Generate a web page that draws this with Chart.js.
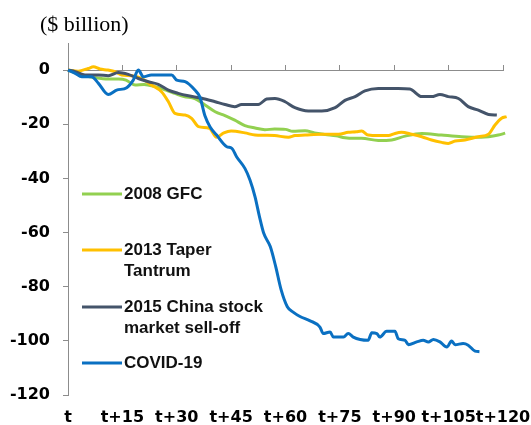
<!DOCTYPE html>
<html>
<head>
<meta charset="utf-8">
<script src="https://cdn.jsdelivr.net/npm/chart.js@4"></script>
<style>
  html, body { margin: 0; padding: 0; background: #ffffff; }
  #wrap { width: 531px; height: 425px; }
</style>
</head>
<body>
<div id="wrap"><canvas id="c" width="531" height="425"></canvas></div>
<script>
// ---- Data ----
const unitLabel = '($ billion)';

const seriesLabels = [
  ['2008 GFC'],
  ['2013 Taper', 'Tantrum'],
  ['2015 China stock', 'market sell-off'],
  ['COVID-19']
];

const xTickValues = [0, 15, 30, 45, 60, 75, 90, 105, 120];
const xTickLabels = ['t', 't+15', 't+30', 't+45', 't+60', 't+75', 't+90', 't+105', 't+120'];
const yTickValues = [0, -20, -40, -60, -80, -100, -120];

const gfcDays = [0, 2, 4.7, 7.4, 11, 14, 16, 18.5, 21, 24, 27, 29.5, 32, 35, 37.8, 40.6, 43.3, 46, 48.8, 51.6, 54.3, 57, 60, 62, 65.4, 68, 71, 74, 76.4, 79, 81, 85.6, 89.3, 93, 97.6, 103, 108.6, 114, 118.7, 120.6];
const gfcValues = [0, -1, -2.1, -2.8, -3.3, -3.3, -3.7, -5.5, -5.3, -6.1, -7.4, -8.6, -9.8, -10.5, -12.9, -15.4, -16.8, -18.5, -20.5, -21.4, -22, -21.8, -21.9, -22.6, -22.4, -23.2, -23.8, -24.3, -25, -25.2, -25.2, -26, -25.8, -24.4, -23.4, -24, -24.6, -24.8, -24, -23.3];

const taperDays = [0, 2.8, 5.6, 7, 8.8, 11, 13, 14.8, 17.6, 20.3, 23, 25.8, 27.7, 29.5, 32.3, 34.1, 36, 39, 41, 43, 45, 48.8, 51.6, 54.3, 57, 60.8, 62.6, 65.4, 70, 74.6, 77.3, 79.5, 81, 82.8, 85.6, 88.4, 90.2, 92, 94.8, 97.6, 100.3, 103.1, 104.9, 106.8, 109.5, 113.2, 116, 117.8, 119.6, 121];
const taperValues = [0, -0.4, 0.6, 1.2, 0.4, 0, -0.6, -1.8, -2.1, -3.1, -5.5, -8, -11.7, -16, -16.6, -17.8, -20.9, -21.5, -24.8, -23.2, -22.5, -23.2, -24, -24.1, -24.2, -24.8, -24.2, -24, -23.7, -23.7, -23, -22.8, -22.5, -24, -24.2, -24.2, -23.4, -23, -23.7, -24.6, -25.8, -26.7, -27.1, -26.2, -25.8, -24.6, -23.7, -20.3, -17.8, -17.2];

const chinaDays = [0, 2, 4.7, 8.4, 11.1, 13.9, 16.6, 19.4, 22.2, 24.9, 27.7, 30.4, 33.2, 36.9, 40.6, 43.3, 46, 47.9, 52.5, 54.8, 57.1, 59.9, 62.6, 66.3, 70, 73.7, 76.4, 79.2, 81.9, 85.6, 88.4, 91.1, 94.3, 97.6, 100.3, 102.6, 104.9, 107.7, 110.4, 113.2, 116, 118.3];
const chinaValues = [0, -0.6, -1.8, -1.8, -2.1, -0.9, -1.6, -3.1, -4.3, -5.3, -7.4, -8.6, -9.5, -10.4, -11.7, -12.7, -13.5, -12.7, -12.7, -10.7, -10.5, -11.7, -13.9, -15.1, -15.1, -13.9, -11.2, -9.8, -7.7, -6.8, -6.8, -6.8, -7, -9.8, -9.8, -9, -9.8, -10.5, -13.5, -14.8, -16.4, -16.6];

const covidDays = [0, 2, 3.8, 6.5, 8.4, 11.1, 13.4, 16.2, 18, 19.4, 20.8, 23, 28.6, 30, 32.3, 35, 36.4, 37.8, 39.2, 41, 43.8, 45.2, 46.5, 48.8, 50.2, 51.6, 52.8, 54, 55.8, 57.3, 58.8, 60.5, 62.2, 64, 66.8, 69.5, 70.4, 72.3, 73.2, 76, 77.3, 78.7, 80.6, 82.8, 83.8, 85.2, 86, 87.9, 90.2, 91.1, 93, 93.9, 96.2, 98, 99.4, 100.8, 102.6, 104.5, 105.8, 106.8, 109, 110.4, 112.3, 113.5];
const covidValues = [0, -1.2, -2.5, -2.5, -4.9, -9, -7.4, -6.5, -3.7, 0, -2.5, -1.8, -1.8, -3.7, -4.3, -7.4, -10, -17, -21, -24, -28.3, -28.9, -32, -36.3, -40.6, -46.8, -54, -60.3, -65.2, -72.6, -81.2, -87.4, -89.5, -91, -92.6, -94.9, -97.3, -96.7, -98.6, -98.6, -97.3, -98.6, -99.5, -99.8, -97, -97.3, -98.6, -96.5, -96.5, -99.2, -99.8, -101.4, -100.4, -99.8, -100.4, -99.5, -100.4, -102.3, -100.1, -101.4, -101, -101.6, -103.8, -104];

const seriesColors = ['#92D050', '#FFC000', '#44546A', '#0A70C2'];

function toPoints(days, values) {
  return days.map((d, i) => ({ x: d, y: values[i] }));
}

// ---- Plugins ----
const unitTitlePlugin = {
  id: 'unitTitle',
  afterDraw(chart, args, opts) {
    const ctx = chart.ctx;
    ctx.save();
    ctx.font = opts.font;
    ctx.fillStyle = opts.color;
    ctx.textAlign = 'left';
    ctx.textBaseline = 'middle';
    ctx.fillText(opts.text, opts.x, opts.y);
    ctx.restore();
  }
};

const insideLegendPlugin = {
  id: 'insideLegend',
  afterDatasetsDraw(chart, args, opts) {
    const ctx = chart.ctx;
    ctx.save();
    chart.data.datasets.forEach((ds, i) => {
      const y0 = opts.rows[i];
      ctx.strokeStyle = ds.borderColor;
      ctx.lineWidth = opts.lineWidth;
      ctx.beginPath();
      ctx.moveTo(opts.lineStart, y0);
      ctx.lineTo(opts.lineEnd, y0);
      ctx.stroke();
      ctx.font = opts.font;
      ctx.fillStyle = opts.color;
      ctx.textAlign = 'left';
      ctx.textBaseline = 'middle';
      const lines = Array.isArray(ds.label) ? ds.label : [ds.label];
      lines.forEach((t, k) => ctx.fillText(t, opts.textX, y0 + k * opts.lineHeight));
    });
    ctx.restore();
  }
};

const drawOrder = [3, 2, 1, 0];
const datasets = [
  [gfcDays, gfcValues],
  [taperDays, taperValues],
  [chinaDays, chinaValues],
  [covidDays, covidValues]
].map((pair, i) => ({
  label: seriesLabels[i],
  data: toPoints(pair[0], pair[1]),
  borderColor: seriesColors[i],
  backgroundColor: seriesColors[i],
  borderWidth: 3,
  pointRadius: 0,
  cubicInterpolationMode: 'monotone',
  fill: false,
  clip: false,
  order: drawOrder[i]
}));

const tickFont = { family: 'DejaVu Sans', weight: 'bold', size: 16 };
const axisGrey = '#8c8c8c';

function noSidePadding(s) {
  s.paddingLeft = 0; s.paddingRight = 0;
}

new Chart(document.getElementById('c'), {
  type: 'line',
  data: { datasets },
  options: {
    responsive: false,
    animation: false,
    events: [],
    layout: { padding: { top: 43, right: 28, left: 0, bottom: 0 } },
    plugins: {
      legend: { display: false },
      tooltip: { enabled: false },
      title: { display: false },
      unitTitle: { text: unitLabel, x: 40, y: 25, font: '22px "Liberation Serif"', color: '#000000' },
      insideLegend: {
        rows: [194, 250, 307, 363],
        lineStart: 82, lineEnd: 122, lineWidth: 3,
        textX: 124, lineHeight: 21,
        font: 'bold 17px "Liberation Sans"', color: '#111111'
      }
    },
    scales: {
      x: {
        type: 'linear',
        position: 'bottom',
        min: 0, max: 120,
        afterBuildTicks: s => { s.ticks = xTickValues.map(v => ({ value: v })); },
        afterFit: s => { s.height = 30; noSidePadding(s); },
        ticks: {
          callback: v => xTickLabels[xTickValues.indexOf(v)],
          font: tickFont, color: '#000000', padding: 13,
          maxRotation: 0, autoSkip: false
        },
        grid: { display: false, drawTicks: false },
        border: { display: false }
      },
      x2: {
        type: 'linear',
        axis: 'x',
        position: { y: 0 },
        min: 0, max: 120,
        afterBuildTicks: s => { s.ticks = xTickValues.map(v => ({ value: v })); },
        afterFit: s => { noSidePadding(s); },
        ticks: { display: false },
        grid: { drawOnChartArea: false, drawTicks: true, tickLength: -6, color: axisGrey, lineWidth: 1 },
        border: { display: true, color: axisGrey, width: 1 }
      },
      y: {
        type: 'linear',
        min: -120, max: 10,
        afterBuildTicks: s => { s.ticks = yTickValues.map(v => ({ value: v })); },
        afterFit: s => { s.width = 68; },
        ticks: { font: tickFont, color: '#000000', padding: 13 },
        grid: { drawOnChartArea: false, drawTicks: true, tickLength: 5, color: axisGrey, lineWidth: 1 },
        border: { display: true, color: axisGrey, width: 1 }
      }
    }
  },
  plugins: [unitTitlePlugin, insideLegendPlugin]
});
</script>
</body>
</html>
